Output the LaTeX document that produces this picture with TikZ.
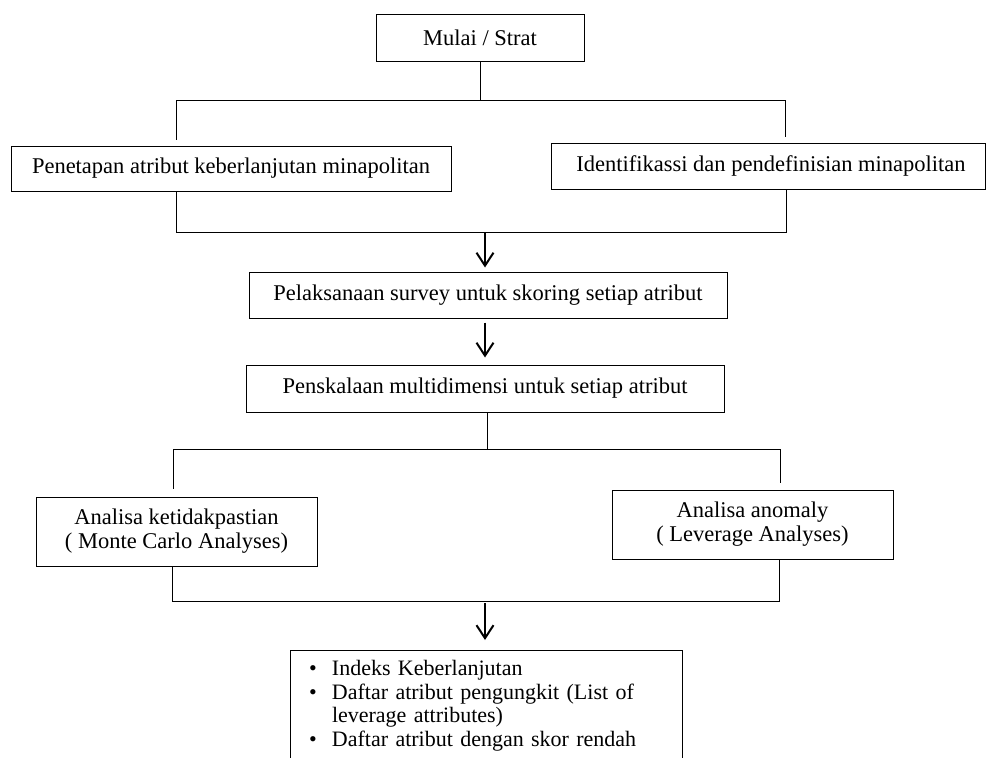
\documentclass[tikz,border=0pt]{standalone}
\usepackage{fontspec}
\setmainfont{Liberation Serif}
\usetikzlibrary{arrows.meta,calc,positioning}

\begin{document}
\begin{tikzpicture}
[
	              x = 1pt,
	              y = -1pt,
	           font = \fontsize{22.5}{24}\selectfont,
	   kotak/.style = { draw=black, line width=1pt, inner sep=0pt, align=center },
	   garis/.style = { draw=black, line width=1pt },
	   panah/.style = { line width=2pt, -{Straight Barb[length=13pt,width=17pt]} }
]
	\clip (0,0) rectangle (986,758);
	\useasboundingbox (0,0) rectangle (986,758);

	% nodes
	\node (mulai) at (480,37.5)          [kotak, minimum width=208pt, minimum height=47pt]   {Mulai / Strat};

	\node (penetapan) at (231,168.5)     [kotak, minimum width=440pt, minimum height=45pt]   {Penetapan atribut keberlanjutan minapolitan};
	\node (identifikasi) at (768,166)    [kotak, minimum width=434pt, minimum height=46pt]   {\hspace*{6pt}Identifikassi dan pendefinisian minapolitan};

	\node (pelaksanaan) at (488,295)     [kotak, minimum width=478pt, minimum height=46pt]   {Pelaksanaan survey untuk skoring setiap atribut};
	\node (penskalaan) at (485,388.5)    [kotak, minimum width=478pt, minimum height=47pt]   {Penskalaan multidimensi untuk setiap atribut};

	\node (ketidakpastian) at (176.5,531.5) [kotak, minimum width=281pt, minimum height=69pt] {Analisa ketidakpastian\\( Monte Carlo Analyses)};
	\node (anomaly) at (752.5,524.5)     [kotak, minimum width=281pt, minimum height=69pt]   {Analisa anomaly\\( Leverage Analyses)};

	\node (hasil) at (486,650)           [kotak, anchor=north, text width=354pt, align=left,
	                                      inner xsep=19pt, inner ysep=10pt,
	                                      font=\fontsize{22}{23.5}\selectfont]
		{\makebox[23pt][l]{\textbullet}Indeks Keberlanjutan\\
		 \makebox[23pt][l]{\textbullet}Daftar atribut pengungkit (List of\\
		 \makebox[23pt][l]{}leverage attributes)\\
		 \makebox[23pt][l]{\textbullet}Daftar atribut dengan skor rendah};

	% connectors
	\coordinate (c1) at (176,100);
	\coordinate (c2) at (785,100);
	\draw [garis] (mulai.south) -- (mulai.south |- c1);
	\draw [garis] ([yshift=6pt]c1 |- penetapan.north) -- (c1) -- (c2) -- ([yshift=6pt]c2 |- identifikasi.north);

	\coordinate (c3) at (176,232);
	\coordinate (c4) at (786,232);
	\draw [garis] (penetapan.south -| c3) -- (c3) -- (c4) -- (identifikasi.south -| c4);

	\coordinate (p1) at (485,232);
	\draw [panah, shorten >=4pt] (p1) -- (pelaksanaan.north -| p1);
	\draw [panah, shorten <=4pt, shorten >=7pt] (pelaksanaan.south -| p1) -- (penskalaan.north -| p1);

	\coordinate (c5) at (173,449);
	\coordinate (c6) at (780,449);
	\draw [garis] ([xshift=2pt]penskalaan.south) -- ([xshift=2pt]penskalaan.south |- c5);
	\draw [garis] ([yshift=8pt]c5 |- ketidakpastian.north) -- (c5) -- (c6) -- ([yshift=7pt]c6 |- anomaly.north);

	\coordinate (c7) at (172,601);
	\coordinate (c8) at (779,601);
	\draw [garis] (ketidakpastian.south -| c7) -- (c7) -- (c8) -- (anomaly.south -| c8);

	\coordinate (p3) at (485,603);
	\draw [panah, shorten >=10pt] (p3) -- (hasil.north -| p3);

\end{tikzpicture}
\end{document}
